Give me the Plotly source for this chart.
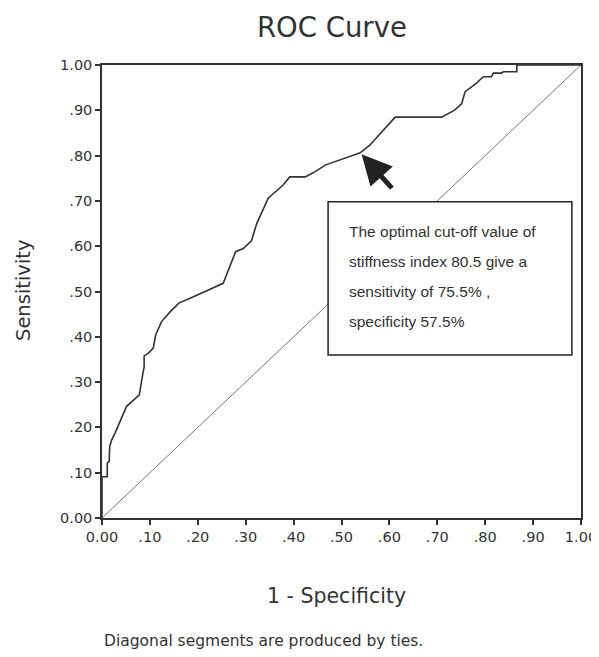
import plotly.graph_objects as go

# ROC curve points
fpr = [0.0, 0.0, 0.011, 0.011, 0.015, 0.016, 0.020, 0.027, 0.051, 0.078, 0.083, 0.088, 0.088,
       0.097, 0.107, 0.112, 0.124, 0.142, 0.161, 0.184, 0.253, 0.264, 0.279, 0.295, 0.312,
       0.323, 0.347, 0.378, 0.392, 0.424, 0.441, 0.466, 0.497, 0.539, 0.559, 0.587, 0.612,
       0.709, 0.737, 0.751, 0.758, 0.782, 0.796, 0.813, 0.817, 0.834, 0.838, 0.866, 0.866, 1.0]
tpr = [0.0, 0.091, 0.091, 0.121, 0.125, 0.157, 0.172, 0.187, 0.246, 0.272, 0.305, 0.334, 0.358,
       0.364, 0.375, 0.404, 0.433, 0.455, 0.475, 0.485, 0.518, 0.547, 0.588, 0.595, 0.612,
       0.650, 0.706, 0.735, 0.753, 0.753, 0.762, 0.779, 0.790, 0.806, 0.823, 0.857, 0.885,
       0.885, 0.901, 0.915, 0.941, 0.960, 0.974, 0.974, 0.982, 0.982, 0.985, 0.985, 1.0, 1.0]
ref_x = [0.0, 1.0]
ref_y = [0.0, 1.0]

tick_vals = [0.0, 0.1, 0.2, 0.3, 0.4, 0.5, 0.6, 0.7, 0.8, 0.9, 1.0]
tick_text = ["0.00", ".10", ".20", ".30", ".40", ".50", ".60", ".70", ".80", ".90", "1.00"]

box_lines = ["The optimal cut-off value of", "stiffness index 80.5 give a",
             "sensitivity of 75.5% ,", "specificity 57.5%"]
cutoff_point = (0.542, 0.803)
arrow_tail = (0.608, 0.725)

# page has an 8px body margin; the figure is sized to fit the window
OFF = 8
W, H = 599 - OFF, 657 - OFF
L, R, T, B = 102 - OFF, 18, 65 - OFF, H - (518 - OFF)
PW, PH = W - L - R, H - T - B


def px(xp):
    return (xp - OFF - L) / PW


def py(yp):
    return (H - B - (yp - OFF)) / PH


fig = go.Figure()
fig.add_trace(go.Scatter(x=ref_x, y=ref_y, mode="lines",
                         line=dict(color="#777777", width=1), hoverinfo="skip"))
fig.add_trace(go.Scatter(x=fpr, y=tpr, mode="lines",
                         line=dict(color="#333333", width=1.6)))

# annotation box (white, covers diagonal)
fig.add_shape(type="rect", xref="x", yref="y", x0=0.472, x1=0.981, y0=0.360, y1=0.698,
              line=dict(color="#222222", width=1.5), fillcolor="white", layer="above")
line_y = [0.633, 0.567, 0.501, 0.433]
for t, yy in zip(box_lines, line_y):
    fig.add_annotation(x=px(349), y=yy, xref="paper", yref="y", text=t, showarrow=False,
                       xanchor="left", yanchor="middle", xshift=-2,
                       font=dict(family="Liberation Sans, Arial", size=15.5, color="#333333"))

fig.add_annotation(x=cutoff_point[0], y=cutoff_point[1], ax=arrow_tail[0], ay=arrow_tail[1],
                   xref="x", yref="y", axref="x", ayref="y", text="", showarrow=True,
                   arrowhead=2, arrowsize=1.2, arrowwidth=5, arrowcolor="#222222")

fig.add_annotation(x=px(331.5), y=py(OFF + 1), xref="paper", yref="paper", text="ROC Curve",
                   showarrow=False, xanchor="center", yanchor="top",
                   font=dict(size=27.5, color="#333333"))
fig.add_annotation(x=px(336), y=py(596), xref="paper", yref="paper", text="1 - Specificity",
                   showarrow=False, xanchor="center", yanchor="middle",
                   font=dict(size=20.5, color="#333333"))
fig.add_annotation(x=px(23), y=py(290), xref="paper", yref="paper", text="Sensitivity",
                   showarrow=False, xanchor="center", yanchor="middle", textangle=-90,
                   font=dict(size=19.5, color="#333333"))
fig.add_annotation(x=px(102), y=py(641), xref="paper", yref="paper",
                   text="Diagonal segments are produced by ties.", showarrow=False,
                   xanchor="left", yanchor="middle",
                   font=dict(size=15.5, color="#333333"))

axis_common = dict(range=[0, 1], tickvals=tick_vals, ticktext=tick_text,
                   ticks="outside", ticklen=5, tickwidth=1.5, tickcolor="#333333",
                   showline=True, linecolor="#333333", linewidth=1.5, mirror=True,
                   showgrid=False, zeroline=False, tickfont=dict(size=14.5),
                   automargin=False)

fig.update_layout(
    width=W, height=H,
    margin=dict(l=L, r=R, t=T, b=B, autoexpand=False),
    paper_bgcolor="white", plot_bgcolor="white",
    showlegend=False,
    font=dict(family="DejaVu Sans, Verdana", color="#333333"),
    xaxis=axis_common,
    yaxis=axis_common,
)

fig.write_html("out.html")
